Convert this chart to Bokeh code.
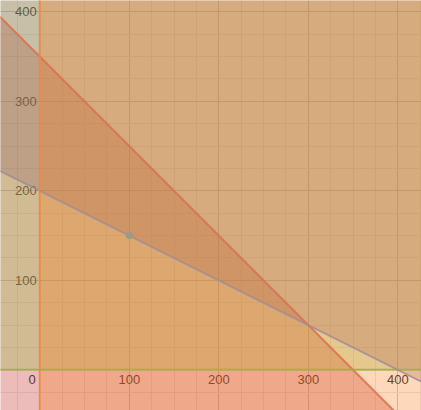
import numpy as np
from bokeh.plotting import figure
from bokeh.models import Range1d, SingleIntervalTicker
from bokeh.embed import file_html
from bokeh.resources import INLINE
from bokeh.core.properties import value

# Inequalities: coef_x * x + coef_y * y (sense) rhs
ineq_names = ["x >= 0", "y >= 0", "x + y <= 350", "x + 2y >= 400"]
coef_x = [1, 0, 1, 1]
coef_y = [0, 1, 1, 2]
rhs = [0, 0, 350, 400]
sense = [1, 1, -1, 1]          # 1 means >=, -1 means <=
fill_colors = ["#fa7e19", "#a0bb4d", "#c74440", "#8c5a69"]
fill_alphas = [0.30, 0.35, 0.36, 0.28]
line_colors = ["#ee8a45", "#a3ad48", "#dc7050", "#a08c96"]
line_widths = [2, 2, 2, 1.8]
draw_order = [2, 1, 3, 0]

# Point
pt_x = [100]
pt_y = [150]

# Tick labels
x_ticks = [100, 200, 300, 400]
y_ticks = [100, 200, 300, 400]
origin_label = ["0"]

B = 5000.0


def clip_half_plane(a, b, c, s):
    poly = [(-B, -B), (B, -B), (B, B), (-B, B)]
    out = []
    f = lambda pt: s * (a * pt[0] + b * pt[1] - c)
    n = len(poly)
    for i in range(n):
        p1 = poly[i]
        p2 = poly[(i + 1) % n]
        f1, f2 = f(p1), f(p2)
        if f1 >= 0:
            out.append(p1)
        if (f1 >= 0) != (f2 >= 0):
            t = f1 / (f1 - f2)
            out.append((p1[0] + t * (p2[0] - p1[0]), p1[1] + t * (p2[1] - p1[1])))
    return [q[0] for q in out], [q[1] for q in out]


def boundary(a, b, c):
    if b == 0:
        return [c / a, c / a], [-B, B]
    xs = [-B, B]
    return xs, [(c - a * x) / b for x in xs]


k = 0.895
x_start = -43.9
y_end = 412.6
W, H = 421, 410

p = figure(width=W, height=H, output_backend="svg", toolbar_location=None,
           x_range=Range1d(x_start, x_start + W / k),
           y_range=Range1d(y_end - H / k, y_end),
           min_border=0, background_fill_color="white", border_fill_color="white")
p.outline_line_color = None
p.axis.visible = False
for g in (p.xgrid, p.ygrid):
    g.ticker = SingleIntervalTicker(interval=100, num_minor_ticks=4)
    g.grid_line_color = "#c4c4c4"
    g.grid_line_width = 1
    g.minor_grid_line_color = "#e8e8e8"

font = value("Liberation Sans")
p.text(x=[0] * len(y_ticks), y=y_ticks, text=[str(v) for v in y_ticks],
       text_align="right", text_baseline="middle", x_offset=-3,
       text_font=font, text_font_size="13px", text_color="#2a2a2a")
p.text(x=x_ticks, y=[0] * len(x_ticks), text=[str(v) for v in x_ticks],
       text_align="center", text_baseline="top", y_offset=5,
       text_font=font, text_font_size="13px", text_color="#2a2a2a")
p.text(x=[0], y=[0], text=origin_label, text_align="right", text_baseline="top",
       x_offset=-4, y_offset=5, text_font=font, text_font_size="13px", text_color="#2a2a2a")

for i in draw_order:
    xs, ys = clip_half_plane(coef_x[i], coef_y[i], rhs[i], sense[i])
    p.patch(xs, ys, fill_color=fill_colors[i], fill_alpha=fill_alphas[i], line_color=None)

for i in draw_order:
    xs, ys = boundary(coef_x[i], coef_y[i], rhs[i])
    p.line(xs, ys, line_color=line_colors[i], line_width=line_widths[i], line_alpha=0.85)

p.scatter(pt_x, pt_y, size=7, fill_color="#9a9a88", line_color=None)

open("out.html", "w").write(file_html(p, INLINE))
